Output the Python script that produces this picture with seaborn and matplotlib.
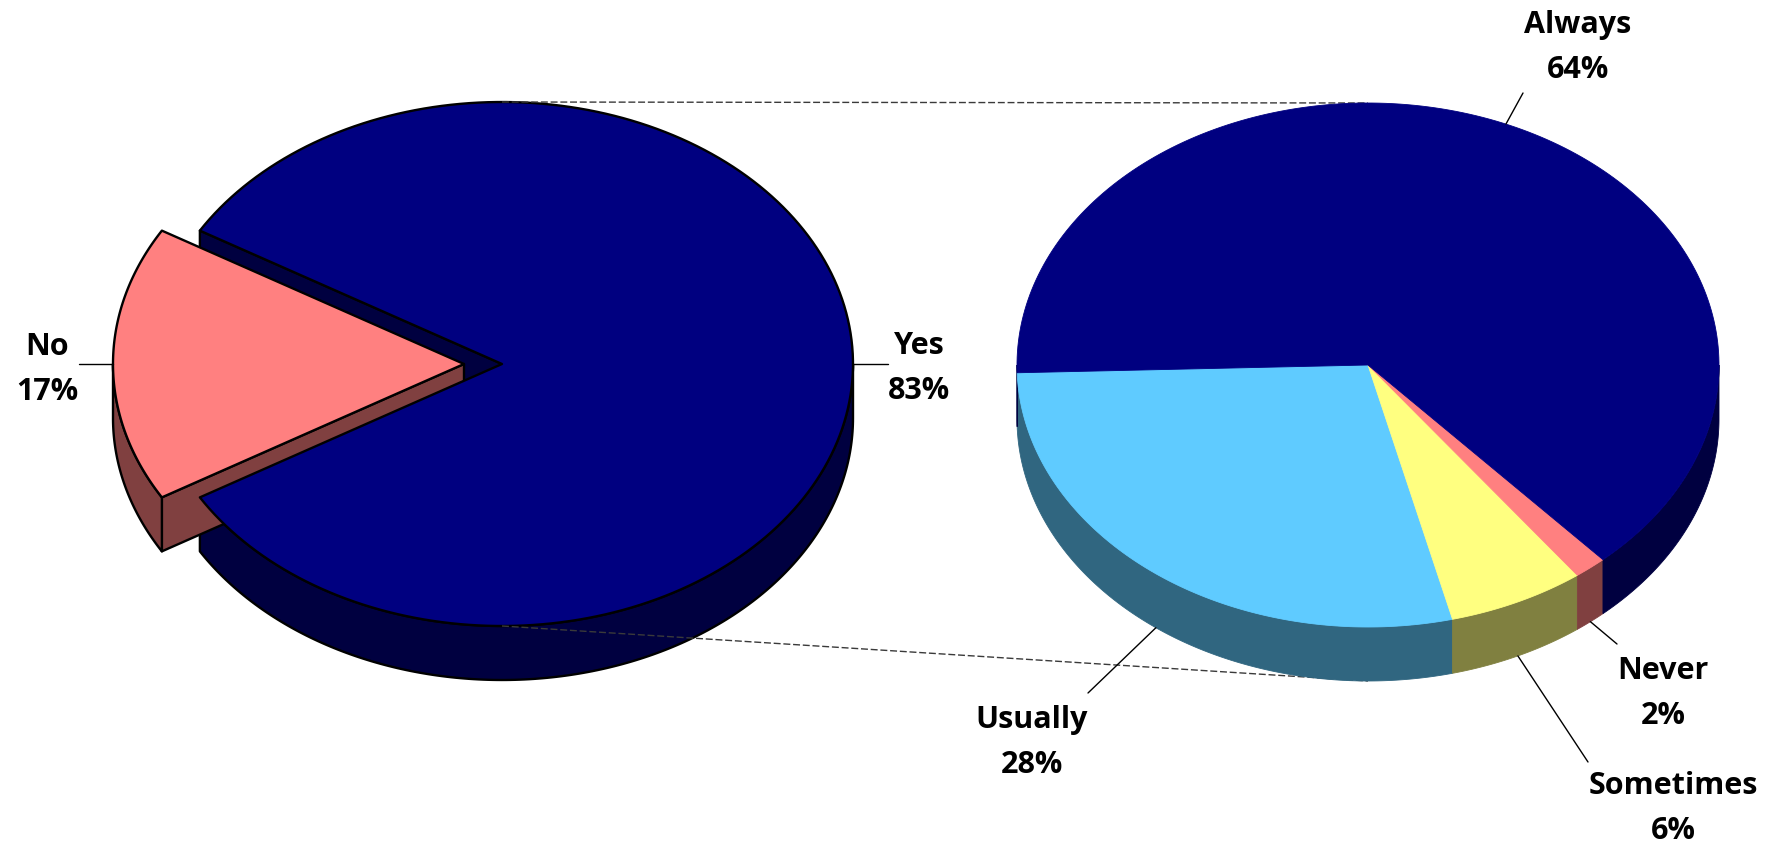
import numpy as np
import matplotlib
matplotlib.use("Agg")
import matplotlib.pyplot as plt
import matplotlib.colors as mcolors
from matplotlib.patches import Polygon
import seaborn as sns

# ---------------- data ----------------
main_labels = ["Yes", "No"]
main_values = [83, 17]
main_colors = ["#000080", "#FF8080"]

detail_labels = ["Usually", "Sometimes", "Never", "Always"]
detail_values = [28.4, 6.3, 1.5, 63.8]
detail_colors = ["#5FCBFF", "#FFFF80", "#FF8080", "#000080"]

# ---------------- style ----------------
sns.set_theme(style="white")
plt.rcParams['font.family'] = ['Open Sans', 'DejaVu Sans']

W, H = 1777, 847
fig = plt.figure(figsize=(W / 100, H / 100), dpi=100)
ax = fig.add_axes([0, 0, 1, 1])
ax.set_xlim(0, W)
ax.set_ylim(H, 0)
ax.axis('off')

# geometry of the two 3-D pies (pixel units)
A, B, DEPTH = 351, 262, 54
MAIN_C = (502, 364)
DETAIL_C = (1368, 365)


def shade(c, f=0.5):
    r, g, b = mcolors.to_rgb(c)
    return (r * f, g * f, b * f)


def arc(cx, cy, t0, t1, n=200):
    t = np.radians(np.linspace(t0, t1, n))
    return np.column_stack([cx + A * np.cos(t), cy - B * np.sin(t)])


def visible_ranges(t0, t1):
    out = []
    for k in range(-1, 3):
        lo, hi = 180 + 360 * k, 360 + 360 * k
        a, b = max(t0, lo), min(t1, hi)
        if b > a:
            out.append((a, b))
    return out


def draw_pie(center, values, colors, start, explode, outlined, z):
    total = float(sum(values))
    spans = [v / total * 360 for v in values]
    slices = []
    t = start
    for v, s, c, ex in zip(values, spans, colors, explode):
        mid = t + s / 2
        dx = ex * np.cos(np.radians(mid))
        dy = -ex * np.sin(np.radians(mid))
        slices.append(dict(t0=t, t1=t + s, mid=mid, color=c,
                           cx=center[0] + dx, cy=center[1] + dy))
        t += s
    kw = dict(edgecolor="black", linewidth=1.7, joinstyle="round")
    # walls
    for sl in slices:
        cx, cy, c = sl["cx"], sl["cy"], sl["color"]
        side = shade(c)
        ekw = kw if outlined else dict(edgecolor=side, linewidth=0.6)
        if outlined:
            # radial cut walls (visible only because pie is split)
            for tt, vis in ((sl["t0"], np.cos(np.radians(sl["t0"])) > 0),
                            (sl["t1"], np.cos(np.radians(sl["t1"])) < 0)):
                if vis:
                    p = arc(cx, cy, tt, tt, 1)[0]
                    poly = [(cx, cy), tuple(p), (p[0], p[1] + DEPTH), (cx, cy + DEPTH)]
                    ax.add_patch(Polygon(poly, closed=True, facecolor=side, zorder=z, **ekw))
        for a0, a1 in visible_ranges(sl["t0"], sl["t1"]):
            top = arc(cx, cy, a0, a1)
            bot = top[::-1] + np.array([0, DEPTH])
            ax.add_patch(Polygon(np.vstack([top, bot]), closed=True,
                                 facecolor=side, zorder=z, **ekw))
    # top faces
    for sl in slices:
        cx, cy, c = sl["cx"], sl["cy"], sl["color"]
        ekw = kw if outlined else dict(edgecolor=c, linewidth=0.6)
        pts = np.vstack([[cx, cy], arc(cx, cy, sl["t0"], sl["t1"])])
        ax.add_patch(Polygon(pts, closed=True, facecolor=c, zorder=z + 1, **ekw))
    return slices


# main pie: "No" slice centred on the left and pulled out
no_span = main_values[1] / sum(main_values) * 360
main_start = 180 + no_span / 2
main_slices = draw_pie(MAIN_C, main_values, main_colors, main_start,
                       explode=[0, 38], outlined=True, z=2)

# connector (series) lines
ax.plot([MAIN_C[0], DETAIL_C[0]], [MAIN_C[1] - B, DETAIL_C[1] - B],
        color="#3a3a3a", lw=1.0, ls=(0, (5, 2)), zorder=4)
ax.plot([MAIN_C[0], DETAIL_C[0]], [MAIN_C[1] + B, DETAIL_C[1] + B + DEPTH],
        color="#3a3a3a", lw=1.0, ls=(0, (5, 2)), zorder=4)

detail_slices = draw_pie(DETAIL_C, detail_values, detail_colors, 181.7,
                         explode=[0, 0, 0, 0], outlined=False, z=6)

# ---------------- labels ----------------
label_layout = {
    "Yes": (919, 354, (888, 364)),
    "No": (47, 355, (79, 364)),
    "Usually": (1032, 728, (1088, 693)),
    "Sometimes": (1673, 794, (1588, 762)),
    "Never": (1663, 679, (1617, 644)),
    "Always": (1578, 33, (1523, 93)),
}


def anchor(sl):
    m = sl["mid"]
    p = arc(sl["cx"], sl["cy"], m, m, 1)[0]
    if np.sin(np.radians(m)) < -0.1:
        p = p + np.array([0, DEPTH])
    return p


all_labels = main_labels + detail_labels
all_values = main_values + detail_values
all_slices = main_slices + detail_slices
for lab, val, sl in zip(all_labels, all_values, all_slices):
    x, yb, (lx, ly) = label_layout[lab]
    p = anchor(sl)
    ax.plot([p[0], lx], [p[1], ly], color="black", lw=1.0, zorder=10)
    ax.text(x, yb, lab, ha="center", va="baseline", fontsize=22,
            fontweight="bold", color="black", zorder=11)
    ax.text(x, yb + 45, f"{round(val)}%", ha="center", va="baseline", fontsize=22,
            fontweight="bold", color="black", zorder=11)

fig.savefig("out.png", dpi=100, facecolor="white")
